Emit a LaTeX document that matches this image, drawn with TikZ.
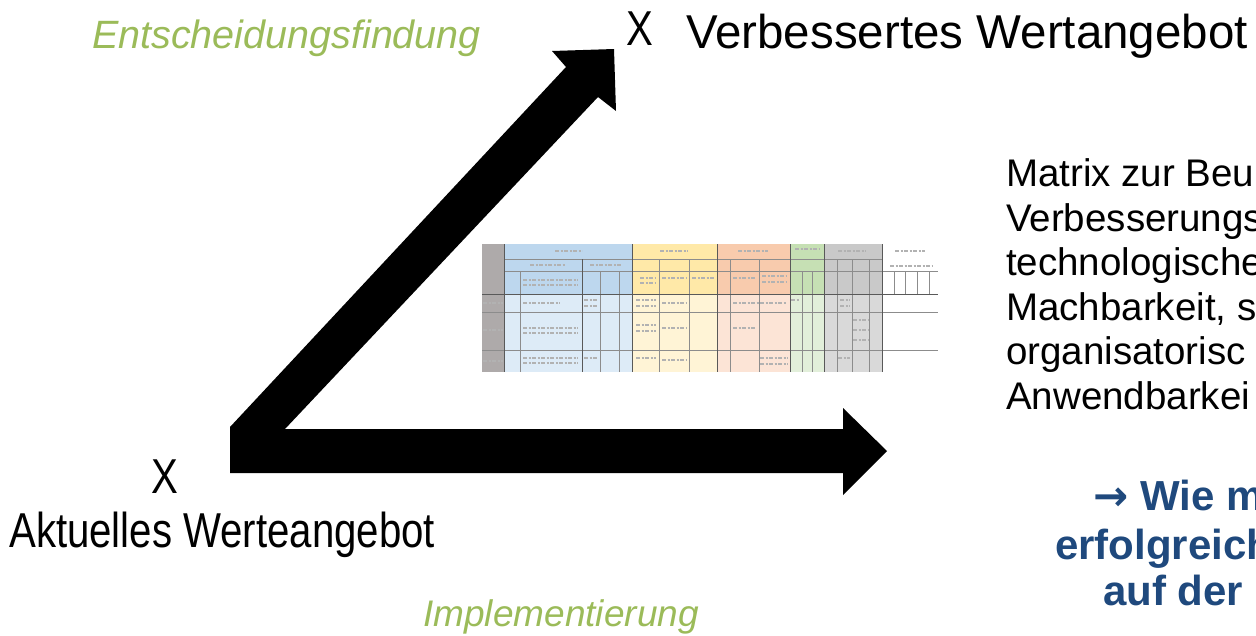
\documentclass[tikz,border=0pt]{standalone}
\usepackage{fontspec}
\setmainfont{Liberation Sans}
\newfontfamily\tallfont[FakeStretch=0.82]{Liberation Sans}
\newfontfamily\arrowfont{DejaVu Sans}
\definecolor{phasegreen}{RGB}{155,187,89}
\definecolor{askblue}{RGB}{31,73,125}
\definecolor{colgray}{RGB}{174,170,170}
\definecolor{bluehead}{RGB}{189,215,238}
\definecolor{bluebody}{RGB}{221,235,247}
\definecolor{yellowhead}{RGB}{255,233,168}
\definecolor{yellowbody}{RGB}{255,244,214}
\definecolor{pinkhead}{RGB}{248,203,173}
\definecolor{pinkbody}{RGB}{252,228,214}
\definecolor{greenhead}{RGB}{198,224,180}
\definecolor{greenbody}{RGB}{226,239,218}
\definecolor{grayhead}{RGB}{201,201,201}
\definecolor{graybody}{RGB}{217,217,217}

\begin{document}
\begin{tikzpicture}[x=1pt,y=-1pt]
\tikzstyle{every node}=[inner sep=0pt,anchor=base west]
\tikzstyle{phase}=[font=\itshape\fontsize{39.5}{47}\selectfont,text=phasegreen]
\tikzstyle{xsign}=[font=\tallfont\fontsize{49}{58}\selectfont]
\tikzstyle{note}=[font=\fontsize{38.5}{44.6}\selectfont]
\tikzstyle{ask}=[font=\bfseries\fontsize{42}{48}\selectfont,text=askblue]
\tikzstyle{cell}=[draw=black!45,line width=0.5pt]
\tikzstyle{group}=[draw=black!65,line width=1pt]
\tikzstyle{scribble}=[draw=black!30,line width=1.2pt,dash pattern=on 4pt off 1.5pt on 2pt off 1.5pt]

\clip (0,0) rectangle (1256,635);
\fill[white] (0,0) rectangle (1256,635);

% Bewertungsmatrix
\fill[colgray] (482,244) rectangle (504,372);
\fill[bluehead] (504,244) rectangle (632,294);
\fill[bluebody] (504,294) rectangle (632,372);
\fill[yellowhead] (632,244) rectangle (717,294);
\fill[yellowbody] (632,294) rectangle (717,372);
\fill[pinkhead] (717,244) rectangle (790,294);
\fill[pinkbody] (717,294) rectangle (790,372);
\fill[greenhead] (790,244) rectangle (824,294);
\fill[greenbody] (790,294) rectangle (824,372);
\fill[grayhead] (824,244) rectangle (882,294);
\fill[graybody] (824,294) rectangle (882,372);
\draw[scribble] (555,251) -- (582,251) (660,251) -- (688,251) (738,251) -- (768,251)
  (795,249) -- (820,249) (838,251) -- (866,251) (895,251) -- (925,251)
  (530,265) -- (565,265) (590,265) -- (622,265) (890,266) -- (932,266)
  (523,280) -- (578,280) (523,285) -- (578,285) (640,278) -- (656,278) (640,283) -- (656,283)
  (662,278) -- (686,278) (692,278) -- (714,278) (733,278) -- (756,278) (762,276) -- (787,276)
  (762,282) -- (787,282) (483,303) -- (503,303) (523,303) -- (560,303) (584,300) -- (598,300)
  (584,306) -- (598,306) (636,300) -- (656,300) (636,306) -- (656,306) (662,303) -- (686,303)
  (733,303) -- (786,303) (791,300) -- (800,300) (840,300) -- (850,300) (840,306) -- (850,306)
  (483,330) -- (503,330) (523,328) -- (578,328) (523,333) -- (578,333) (636,325) -- (656,325)
  (636,331) -- (656,331) (662,328) -- (686,328) (733,328) -- (756,328) (853,320) -- (868,320)
  (853,330) -- (868,330) (853,340) -- (868,340) (483,361) -- (503,361) (523,358) -- (578,358)
  (523,363) -- (578,363) (584,358) -- (598,358) (636,358) -- (656,358) (662,360) -- (686,360)
  (760,358) -- (788,358) (760,364) -- (788,364) (838,358) -- (850,358);
\draw[cell] (504,259) -- (882,259) (504,271) -- (938,271)
  (482,312) -- (938,312) (482,350) -- (938,350);
\draw[cell] (520,271) -- (520,372) (600,271) -- (600,372) (619,271) -- (619,372)
  (659,259) -- (659,372) (689,259) -- (689,372) (730,259) -- (730,372) (759,259) -- (759,372)
  (802,271) -- (802,372) (812,271) -- (812,372) (837,259) -- (837,372) (852,259) -- (852,372)
  (869,259) -- (869,372) (894,271) -- (894,294) (905,271) -- (905,294) (917,271) -- (917,294)
  (929,271) -- (929,294);
\draw[group] (482,294) -- (938,294) (504,244) -- (504,372) (582,259) -- (582,372)
  (632,244) -- (632,372) (717,244) -- (717,372) (790,244) -- (790,372)
  (824,244) -- (824,372) (882,244) -- (882,372);

% Pfeile
\fill (230,473) -- (843,473) -- (843,495) -- (887,451) -- (843,408) -- (843,429)
  -- (285,429) -- (598,97) -- (616,111) -- (614,49) -- (552,51) -- (566,67)
  -- (230,427) -- cycle;

\node[xsign] (xnew) at (626,45) {X};
\node[font=\fontsize{47.5}{56}\selectfont] (new) at (686,48) {Verbessertes Wertangebot};
\node[phase] (decide) at (92,48) {Entscheidungsfindung};
\node[phase,font=\itshape\fontsize{37}{44}\selectfont] (impl) at (423,626) {Implementierung};
\node[xsign] (xnow) at (151,493) {X};
\node[xsign] (now) at (9,547) {Aktuelles Werteangebot};

\node[note] (note1) at (1006,186) {Matrix zur Beu};
\node[note] (note2) at (1006,231) {Verbesserungs};
\node[note] (note3) at (1006,275) {technologische};
\node[note] (note4) at (1006,320) {Machbarkeit, s};
\node[note] (note5) at (1006,364) {organisatorisc};
\node[note] (note6) at (1006,409) {Anwendbarkei};

\node[ask] (ask1) at (1093,510) {{\arrowfont\bfseries →} Wie m};
\node[ask] (ask2) at (1055,559) {erfolgreich};
\node[ask] (ask3) at (1103,605) {auf der};
\end{tikzpicture}
\end{document}
